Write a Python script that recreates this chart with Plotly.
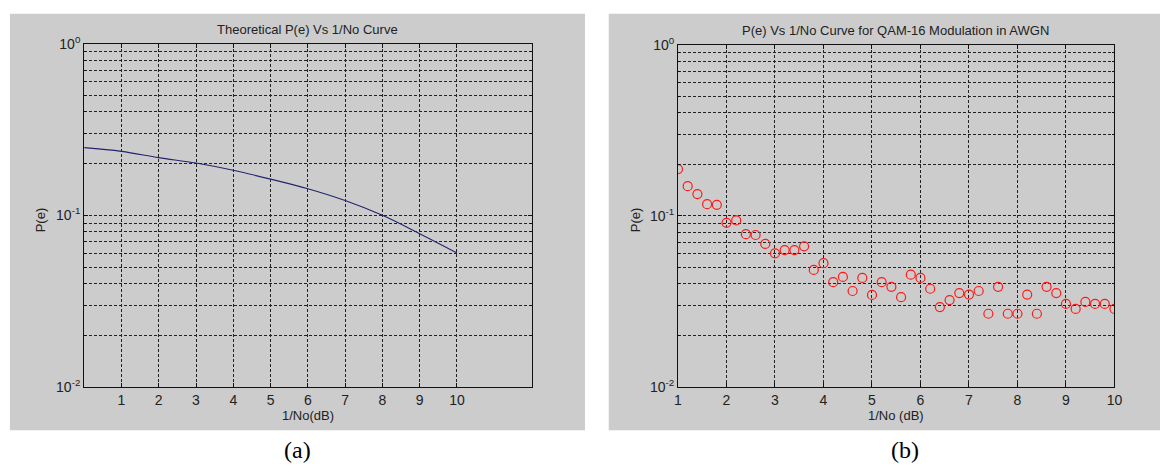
import plotly.graph_objects as go

W, H = 1168, 472

# Theoretical curve: 1/No (dB) vs P(e)
theory_x = [0, 1, 2, 3, 4, 5, 6, 7, 8, 9, 10]
theory_pe = [0.248, 0.236, 0.217, 0.2017, 0.183, 0.1626, 0.1429, 0.122, 0.100, 0.0782, 0.0604]

# Simulated QAM-16 in AWGN
sim_x = [1.0, 1.2, 1.4, 1.6, 1.8, 2.0, 2.2, 2.4, 2.6, 2.8,
         3.0, 3.2, 3.4, 3.6, 3.8, 4.0, 4.2, 4.4, 4.6, 4.8,
         5.0, 5.2, 5.4, 5.6, 5.8, 6.0, 6.2, 6.4, 6.6, 6.8,
         7.0, 7.2, 7.4, 7.6, 7.8, 8.0, 8.2, 8.4, 8.6, 8.8,
         9.0, 9.2, 9.4, 9.6, 9.8, 10.0]
sim_pe = [0.1875, 0.149, 0.134, 0.117, 0.116, 0.091, 0.094, 0.0782, 0.0773, 0.0685,
          0.0604, 0.0631, 0.0631, 0.0664, 0.0483, 0.0529, 0.0410, 0.0440, 0.0364, 0.0434,
          0.0345, 0.0410, 0.0385, 0.0335, 0.0453, 0.0434, 0.0375, 0.0293, 0.0322, 0.0354,
          0.0347, 0.0364, 0.0268, 0.0385, 0.0268, 0.0268, 0.0347, 0.0268, 0.0385, 0.0354,
          0.0306, 0.0286, 0.0314, 0.0306, 0.0306, 0.0286]

x_ticks = [1, 2, 3, 4, 5, 6, 7, 8, 9, 10]
y_major = [0.01, 0.1, 1]
y_major_text = ["10<sup>-2</sup>", "10<sup>-1</sup>", "10<sup>0</sup>"]
y_minor = [m * d for d in (0.01, 0.1) for m in range(2, 10)]

left_title = "Theoretical P(e) Vs 1/No Curve"
right_title = "P(e) Vs 1/No Curve for QAM-16 Modulation in AWGN"

FONT = "Liberation Sans, Arial, sans-serif"
GRID = "#222222"
DASH = "3px,2px"


def px_x(p):
    return p / W


def px_y(p):
    return 1 - p / H


fig = go.Figure()

fig.add_trace(go.Scatter(
    x=theory_x, y=theory_pe, mode="lines", line=dict(color="#23236e", width=1.1, shape="spline"),
    xaxis="x", yaxis="y", showlegend=False))

fig.add_trace(go.Scatter(
    x=sim_x, y=sim_pe, mode="markers",
    marker=dict(symbol="circle-open", size=9, color="#ff1a1a", line=dict(width=1.2, color="#ff1a1a")),
    xaxis="x2", yaxis="y2", showlegend=False))

common_x = dict(
    tickvals=x_ticks, ticktext=[str(v) for v in x_ticks],
    showgrid=True, gridcolor=GRID, griddash=DASH, gridwidth=1,
    showline=True, linecolor="#111", linewidth=1, mirror="allticks",
    ticks="inside", ticklen=4, tickcolor="#111",
    tickfont=dict(family=FONT, size=14, color="#222"), zeroline=False,
)
common_y = dict(
    type="log", range=[-2, 0],
    tickvals=y_major, ticktext=y_major_text,
    showgrid=True, gridcolor=GRID, griddash=DASH, gridwidth=1,
    showline=True, linecolor="#111", linewidth=1, mirror="allticks",
    ticks="inside", ticklen=4, tickcolor="#111",
    tickfont=dict(family=FONT, size=14, color="#222"), zeroline=False,
    minor=dict(tickvals=y_minor, showgrid=True, gridcolor=GRID, griddash=DASH,
               gridwidth=1, ticks="inside", ticklen=2, tickcolor="#111"),
)

fig.update_layout(
    width=W, height=H,
    margin=dict(l=0, r=0, t=0, b=0),
    paper_bgcolor="white", plot_bgcolor="white",
    xaxis=dict(domain=[px_x(81), px_x(533)], range=[0, 12], anchor="y", **common_x),
    yaxis=dict(domain=[px_y(392), px_y(35)], anchor="x", **common_y),
    xaxis2=dict(domain=[px_x(681), px_x(1122)], range=[1, 10], anchor="y2", **common_x),
    yaxis2=dict(domain=[px_y(392), px_y(36)], anchor="x2", **common_y),
    shapes=[
        dict(type="rect", xref="paper", yref="paper", layer="below",
             x0=px_x(6), x1=px_x(587), y0=px_y(437), y1=px_y(4),
             fillcolor="#cccccc", line=dict(width=0)),
        dict(type="rect", xref="paper", yref="paper", layer="below",
             x0=px_x(611), x1=px_x(1168), y0=px_y(437), y1=px_y(4),
             fillcolor="#cccccc", line=dict(width=0)),
    ],
)

ann_font = dict(family=FONT, size=13, color="#222")
annotations = [
    dict(text=left_title, x=px_x(307), y=px_y(20)),
    dict(text=right_title, x=px_x(901), y=px_y(21)),
    dict(text="1/No(dB)", x=px_x(307), y=px_y(422)),
    dict(text="1/No (dB)", x=px_x(901), y=px_y(422)),
    dict(text="P(e)", x=px_x(37), y=px_y(218), textangle=-90),
    dict(text="P(e)", x=px_x(638), y=px_y(218), textangle=-90),
]
for a in annotations:
    fig.add_annotation(xref="paper", yref="paper", xanchor="center", yanchor="middle",
                       showarrow=False, font=ann_font, **a)

for label, cx in (("(a)", 297), ("(b)", 910)):
    fig.add_annotation(text=label, xref="paper", yref="paper", x=px_x(cx), y=px_y(457),
                       xanchor="center", yanchor="middle", showarrow=False,
                       font=dict(family="Liberation Serif, Times New Roman, serif", size=24, color="#000"))

fig.write_html("out.html")
